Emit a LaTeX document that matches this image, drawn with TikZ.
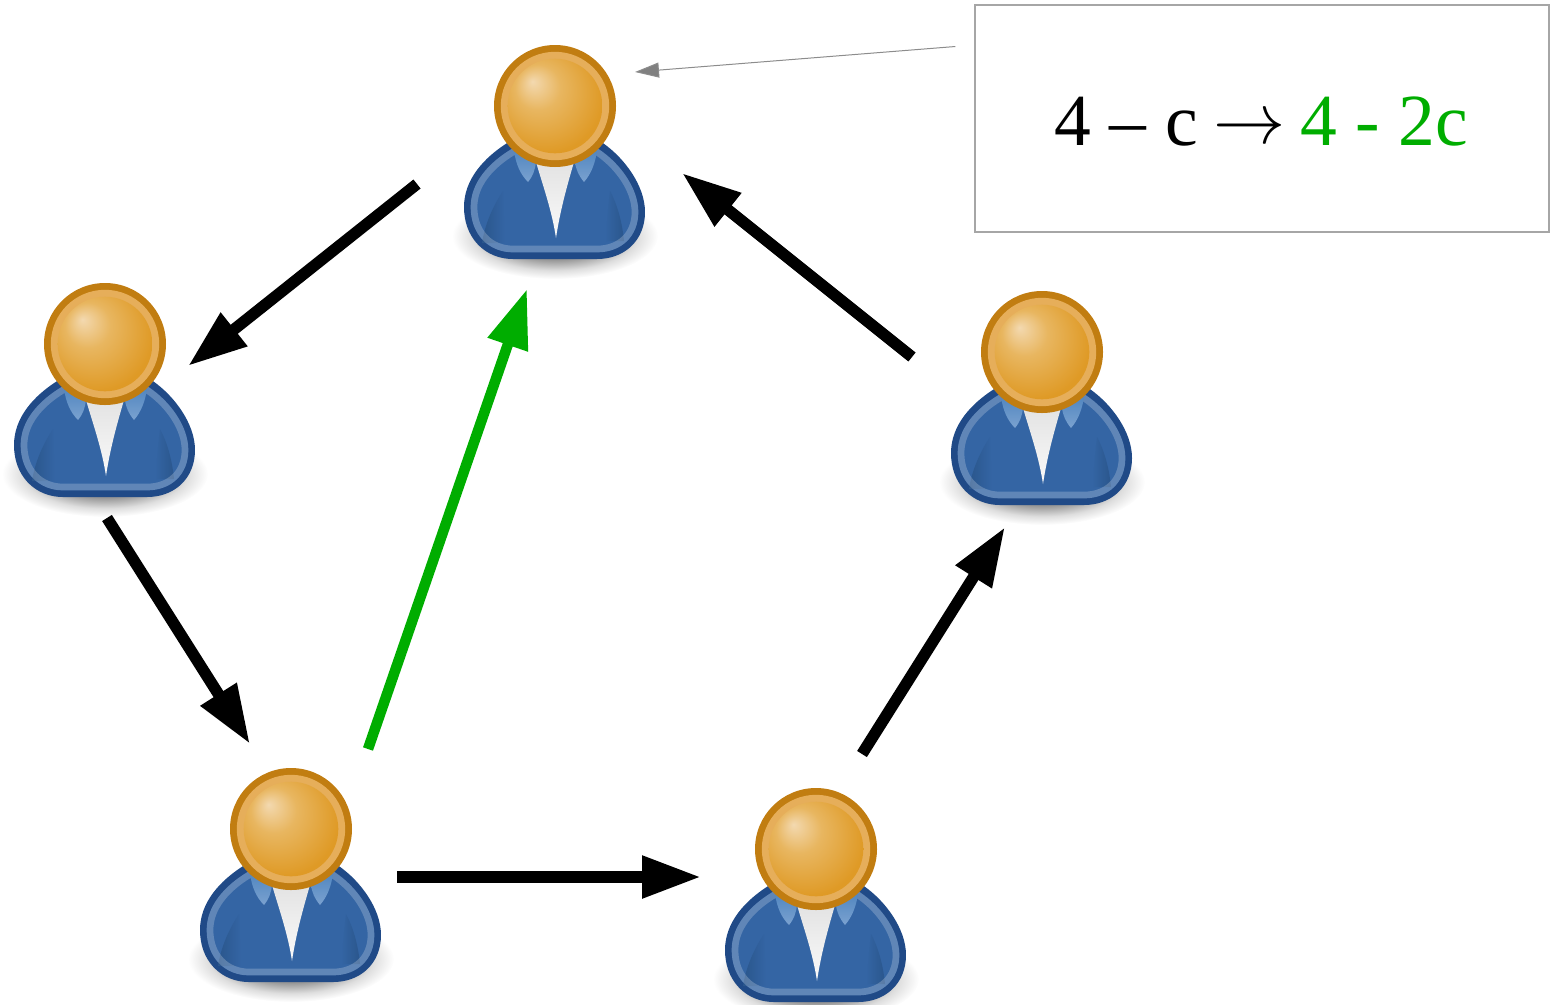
\documentclass[tikz,border=0pt]{standalone}
\usepackage{fontspec}
\usepackage{graphicx}
\setmainfont{Liberation Serif}
\usetikzlibrary{arrows.meta,calc}
\definecolor{headdark}{HTML}{C17D11}
\definecolor{headlight}{HTML}{E6AE5A}
\definecolor{headhi}{HTML}{F3D9B0}
\definecolor{headmid}{HTML}{E8B660}
\definecolor{headbase}{HTML}{DF9A26}
\definecolor{bodydark}{HTML}{204A87}
\definecolor{bodyfill}{HTML}{3465A4}
\definecolor{bodyfold}{HTML}{2A568C}
\definecolor{collartop}{HTML}{5287C0}
\definecolor{collarlow}{HTML}{7BA2D0}
\definecolor{greenarrow}{HTML}{00AD00}
\pgfdeclareradialshading{headball}{\pgfpoint{-12bp}{13bp}}{%
  color(0bp)=(headhi);color(12bp)=(headmid);color(30bp)=(headbase);color(50bp)=(headbase)}
\pgfdeclareradialshading{softshadow}{\pgfpoint{0bp}{0bp}}{%
  color(0bp)=(black!60);color(13.5bp)=(black!42);color(20bp)=(black!13);color(25bp)=(white);color(50bp)=(white)}
\tikzset{
  x=1pt,y=-1pt,
  personbox/.style={minimum width=182pt,minimum height=214pt,inner sep=0pt,outer sep=0pt},
  blackarrow/.style={line width=11.5pt,draw=black,fill=black,-{Triangle[length=59pt,width=40pt]}},
  greenflow/.style={line width=10.5pt,draw=greenarrow,fill=greenarrow,-{Triangle[length=59pt,width=40pt]}},
  thinarrow/.style={draw=black!45,line width=1pt,-{Triangle[length=24pt,width=15pt,fill=black!50]}},
  notebox/.style={draw=black!35,line width=1.2pt,fill=white,minimum width=574pt,minimum height=227pt,inner sep=0pt},
  person/.pic={
    \shade[shading=softshadow] (0,130) ellipse [x radius=103, y radius=43];
    \def\bodypath{(-40,48) .. controls (-62,62) and (-77.5,80) .. (-77.5,101)
      .. controls (-77.5,125) and (-62,139.5) .. (-42,139.5) -- (42,139.5)
      .. controls (62,139.5) and (76.5,127) .. (76.5,106)
      .. controls (76.5,86) and (60,62) .. (40,48) -- cycle}
    \def\ringpath{(-42,46) .. controls (-65,60) and (-81,79) .. (-81,101)
      .. controls (-81,127) and (-64,143) .. (-42,143) -- (42,143)
      .. controls (64,143) and (80,129) .. (80,106)
      .. controls (80,84) and (63,60) .. (42,46) -- cycle}
    \draw[bodydark,line width=27pt,line join=round] \bodypath;
    \draw[bodyfill,line width=6.7pt,line join=round,fill=bodyfill] \ringpath;
    \shade[left color=bodyfold,right color=bodyfill]
      (-52,85) .. controls (-62,100) and (-70,118) .. (-73,137) -- (-50,137)
      .. controls (-51,120) and (-51,100) .. (-52,85) -- cycle;
    \shade[right color=bodyfold,left color=bodyfill]
      (55,85) .. controls (62,98) and (67,115) .. (69,135) -- (50,135)
      .. controls (52,118) and (53,100) .. (55,85) -- cycle;
    \draw[white,opacity=.22,line width=6.7pt,line join=round] \ringpath;
    \shade[top color=collartop,bottom color=collarlow]
      (-41,45) .. controls (-39,58) and (-35,68) .. (-27,76)
      .. controls (-22,70) and (-20,64) .. (-19,56) -- cycle;
    \shade[top color=collartop,bottom color=collarlow]
      (42,45) .. controls (40,58) and (36,68) .. (29,76)
      .. controls (24,70) and (21,64) .. (20,56) -- cycle;
    \shade[top color=black!11,bottom color=black!2]
      (-19,56) .. controls (-12,80) and (-3,105) .. (1,132)
      .. controls (5,105) and (12,80) .. (19,56) -- cycle;
    \fill[headdark] (0,0) circle [radius=61];
    \fill[headlight] (0,0) circle [radius=54.2];
    \shade[shading=headball] (0,0) circle [radius=47.3];
  }
}
\begin{document}
\begin{tikzpicture}
\useasboundingbox (0,0) rectangle (1560,1004);
\clip (0,0) rectangle (1560,1004);
% people
\pic at (555,106) {person};
\pic at (105,344) {person};
\pic at (1042,352) {person};
\pic at (291,829) {person};
\pic at (816,849) {person};
\node[personbox] (top)    at (555,168) {};
\node[personbox] (left)   at (105,406) {};
\node[personbox] (right)  at (1042,414) {};
\node[personbox] (lower)  at (291,891) {};
\node[personbox] (lowerr) at (816,911) {};
% ends of connectors, relative to the people
\coordinate (topout)    at ($(top)+(-138,16)$);
\coordinate (leftin)    at ($(left)+(83,-40)$);
\coordinate (leftout)   at ($(left)+(2,112)$);
\coordinate (lowerin)   at ($(lower)+(-41,-147)$);
\coordinate (lowergo)   at ($(lower)+(77,-142)$);
\coordinate (topgreen)  at ($(top)+(-28,121)$);
\coordinate (lowerout)  at ($(lower)+(106,-14)$);
\coordinate (lowerrin)  at ($(lowerr)+(-117,-34)$);
\coordinate (lowerrout) at ($(lowerr)+(46,-157)$);
\coordinate (rightin)   at ($(right)+(-37,113)$);
\coordinate (rightout)  at ($(right)+(-130,-57)$);
\coordinate (topin)     at ($(top)+(127,5)$);
\coordinate (topnote)   at ($(top)+(80,-96)$);
% note
\node[notebox] (note) at (1262,118.5) {};
\node[font=\fontsize{73.5pt}{75pt}\selectfont,anchor=base,inner sep=0pt] (formula) at (1261.5,145)
  {4 – c\hspace{16pt}\raisebox{2pt}{\scalebox{2.9}{$\rightarrow$}}\hspace{15pt}\textcolor{greenarrow}{4 - 2c}};
\coordinate (noteout) at ($(note.west)+(-19,-72)$);
% connectors
\draw[blackarrow] (topout) -- (leftin);
\draw[blackarrow] (leftout) -- (lowerin);
\draw[greenflow] (lowergo) -- (topgreen);
\draw[blackarrow] (lowerout) -- ($(lowerrin)+(2,0)$);
\draw[blackarrow] (lowerrout) -- (rightin);
\draw[blackarrow] (rightout) -- (topin);
\draw[thinarrow] (noteout) -- (topnote);
\end{tikzpicture}
\end{document}
